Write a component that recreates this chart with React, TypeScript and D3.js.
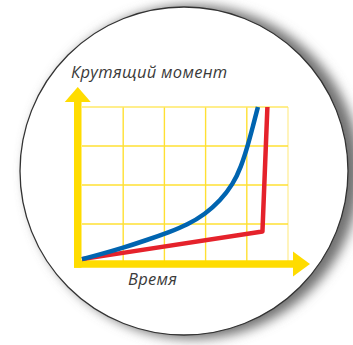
import React from "react";
import * as d3 from "d3";

// Torque vs. time: two response curves on a 5×4 grid
const xTicks = [0, 1, 2, 3, 4, 5];
const yTicks = [0, 1, 2, 3, 4];

const blueTime = [0, 0.44, 0.97, 1.55, 2.14, 2.55, 2.99, 3.35, 3.67, 3.86, 4.03, 4.15, 4.27];
const blueTorque = [0.1, 0.22, 0.38, 0.58, 0.8, 0.975, 1.255, 1.59, 2.03, 2.46, 3.03, 3.51, 4.0];

const redTime = [0, 4.38, 4.5];
const redTorque = [0.1, 0.81, 4.0];

const yLabel = "Крутящий момент";
const xLabel = "Время";

const W = 353;
const H = 345;

export default function App() {
  const x = d3.scaleLinear().domain([0, 5]).range([82, 288]);
  const y = d3.scaleLinear().domain([0, 4]).range([263, 107]);

  const bluePath = d3
    .line<[number, number]>()
    .x((d) => x(d[0]))
    .y((d) => y(d[1]))
    .curve(d3.curveBasis)(blueTime.map((t, i) => [t, blueTorque[i]] as [number, number]));
  const redPath = d3
    .line<[number, number]>()
    .x((d) => x(d[0]))
    .y((d) => y(d[1]))
    .curve(d3.curveLinear)(redTime.map((t, i) => [t, redTorque[i]] as [number, number]));

  const cx = 184;
  const cy = 171;
  const r = 164;

  const axisW = 7.5;
  const x0 = x(0) - axisW / 2 - 0.5; // vertical axis centre
  const y0 = y(0) + 1; // horizontal axis centre

  const yArrowTip = y(4) - 20;
  const yArrowBase = y(4) - 5;
  const xArrowBase = x(5) + 5;
  const xArrowTip = x(5) + 22;

  const yellow = "#ffdc00";
  const grid = "#ffe033";

  const labelStyle = {
    fontFamily: "'Open Sans', sans-serif",
    fontStyle: "italic",
    fontSize: 16.5,
    letterSpacing: 0.3,
  } as const;

  return (
    <div style={{ position: "fixed", left: 0, top: 0 }}>
      <svg width={W} height={H} viewBox={`0 0 ${W} ${H}`}>
        <defs>
          <filter id="soft" x="-20%" y="-20%" width="140%" height="140%">
            <feGaussianBlur stdDeviation="6" />
          </filter>
        </defs>
        <rect width={W} height={H} fill="#ffffff" />
        {/* drop shadow behind the disc */}
        <circle cx={cx + 9} cy={cy + 1} r={r + 3} fill="#727272" filter="url(#soft)" />
        <circle cx={cx} cy={cy} r={r} fill="#ffffff" stroke="#333333" strokeWidth={1.3} />

        {/* grid */}
        <g>
          {xTicks.slice(1).map((t) => (
            <line
              key={"gx" + t}
              x1={x(t)}
              x2={x(t)}
              y1={y(4)}
              y2={y(0)}
              stroke={t === 5 ? "#fff0a0" : grid}
              strokeWidth={1.4}
            />
          ))}
          {yTicks.slice(1).map((t) => (
            <line
              key={"gy" + t}
              x1={x(0)}
              x2={x(5)}
              y1={y(t)}
              y2={y(t)}
              stroke={t === 4 ? "#ffe866" : grid}
              strokeWidth={1.4}
            />
          ))}
        </g>

        {/* axes with arrowheads */}
        <line x1={x0} x2={x0} y1={yArrowBase} y2={y0 + axisW / 2} stroke={yellow} strokeWidth={axisW} />
        <polygon
          points={`${x0},${yArrowTip} ${x0 - 13},${yArrowBase} ${x0 + 13},${yArrowBase}`}
          fill={yellow}
        />
        <line x1={x0 - axisW / 2} x2={xArrowBase} y1={y0} y2={y0} stroke={yellow} strokeWidth={axisW} />
        <polygon
          points={`${xArrowTip},${y0} ${xArrowBase},${y0 - 12.5} ${xArrowBase},${y0 + 12.5}`}
          fill={yellow}
        />

        {/* curves */}
        <path d={redPath || ""} fill="none" stroke="#e5222b" strokeWidth={4.5} strokeLinejoin="round" />
        <path d={bluePath || ""} fill="none" stroke="#0064b0" strokeWidth={4.5} />

        {/* labels */}
        <text x={71} y={78} fill="#3a3a3a" style={labelStyle}>
          {yLabel}
        </text>
        <text x={128} y={285} fill="#3a3a3a" style={labelStyle}>
          {xLabel}
        </text>
      </svg>
    </div>
  );
}
